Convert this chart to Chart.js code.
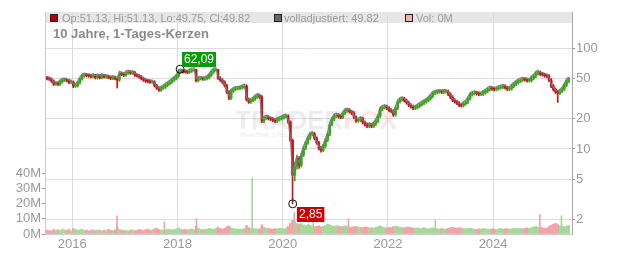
<!DOCTYPE html>
<html><head><meta charset="utf-8">
<script src="https://cdn.jsdelivr.net/npm/chart.js@4/dist/chart.umd.min.js"></script>
<style>html,body{margin:0;padding:0;background:#fff}canvas{display:block}</style>
</head><body>
<canvas id="c" width="632" height="253"></canvas>
<script>
// ---- tick labels / categories ----
const yearTicks = [2016, 2018, 2020, 2022, 2024];
const priceTicks = [2, 5, 10, 20, 50, 100];
const volTicks = [0, 10, 20, 30, 40]; // millions
const firstPeriod = 2015.5;   // half-month candles from Jul 2015
const periodsPerYear = 24;

// ---- series (half-month OHLC) ----
const opens = [51.0,50.0,49.5,47.3,44.1,44.6,44.1,46.7,48.4,48.4,
 47.8,46.0,46.2,42.2,42.5,45.7,49.5,53.3,54.2,53.6,
 53.3,52.4,53.6,51.2,53.3,51.2,53.6,52.1,52.4,51.5,
 50.4,51.2,50.1,48.4,56.5,55.2,54.2,56.8,58.1,56.8,
 57.5,54.2,53.3,52.1,50.1,48.4,47.3,47.0,46.2,46.2,
 42.6,40.3,38.5,40.3,41.2,43.1,44.6,46.2,48.4,50.1,
 53.0,58.8,59.5,58.6,58.5,57.9,59.5,60.8,61.4,47.8,
 50.1,50.1,49.5,50.1,51.2,54.2,58.1,61.1,61.4,50.7,
 48.4,46.2,42.6,36.8,32.0,37.6,39.0,39.9,39.9,40.5,
 41.2,42.2,31.0,29.3,30.3,31.4,32.9,34.0,32.8,18.9,
 20.3,20.8,20.1,19.8,19.3,18.9,19.6,20.0,20.5,21.0,
 21.2,18.5,12.2,5.5,6.7,8.1,6.9,8.7,10.2,11.5,
 12.8,14.0,14.2,12.8,11.5,10.2,9.7,10.7,12.2,14.0,
 17.6,19.8,21.2,21.7,21.0,20.7,22.7,24.0,24.3,23.5,
 22.7,20.7,19.1,19.3,20.0,18.5,17.6,16.9,17.4,16.9,
 17.8,18.9,21.2,24.9,25.8,26.4,25.5,24.3,23.8,21.9,
 25.5,29.5,30.9,31.6,30.3,28.9,27.3,26.4,25.5,25.8,
 26.7,27.6,28.6,29.5,30.3,31.7,33.5,35.9,36.5,37.0,
 37.2,36.8,37.2,37.2,35.1,32.8,30.6,29.5,28.6,27.3,
 27.0,28.2,29.2,31.7,34.7,35.5,36.2,35.5,35.1,35.1,
 36.4,37.6,39.0,40.3,39.6,39.1,39.8,40.6,41.2,42.0,
 40.8,39.4,39.8,42.2,44.1,45.7,47.3,48.4,49.2,48.9,
 47.8,47.8,50.7,53.0,56.2,57.5,55.5,54.8,53.6,53.0,
 48.4,42.2,39.0,36.8,35.9,37.6,39.4,43.1,47.3];
const highs = [52.6,51.6,51.0,48.6,46.1,46.0,48.2,50.0,50.1,49.9,
 49.3,47.7,47.5,44.0,47.2,51.0,55.0,56.0,56.0,55.4,
 55.0,55.4,55.2,55.0,55.0,55.4,55.3,54.2,54.1,53.2,
 52.9,52.9,51.8,58.2,58.3,57.0,58.7,60.0,60.0,59.4,
 59.3,56.0,55.0,53.8,51.7,50.0,48.9,48.6,47.8,47.7,
 44.0,41.6,41.6,42.6,44.5,46.1,47.8,50.0,51.8,54.8,
 62.09,61.5,61.4,60.5,60.4,61.5,61.9,62.0,62.0,51.8,
 51.8,51.8,51.8,52.9,56.0,60.0,61.9,62.0,61.8,52.4,
 50.0,47.7,44.0,38.0,38.9,40.3,41.3,41.3,41.9,42.6,
 43.7,43.6,32.1,31.4,32.5,34.0,35.2,35.2,33.9,21.0,
 21.5,21.5,20.8,20.5,20.0,20.3,20.7,21.2,21.7,21.9,
 21.9,19.1,12.6,7.4,8.6,8.4,9.1,10.6,11.9,13.3,
 14.6,14.8,14.7,13.2,11.9,10.6,11.1,12.7,14.6,18.3,
 20.6,22.0,22.5,22.5,21.8,23.5,24.9,25.2,25.2,24.3,
 23.5,21.4,20.0,20.7,20.7,19.1,18.2,18.0,18.0,18.4,
 19.6,22.0,25.8,26.7,27.3,27.3,26.4,25.2,24.6,26.4,
 30.5,32.0,32.7,32.7,31.4,29.9,28.3,27.3,26.7,27.6,
 28.6,29.6,30.5,31.4,32.8,34.7,37.2,37.8,38.3,38.5,
 38.5,38.5,38.5,38.5,36.3,33.9,31.7,30.5,29.6,28.3,
 29.2,30.2,32.8,35.9,36.7,37.5,37.5,36.7,36.3,37.7,
 38.9,40.4,41.7,41.7,41.0,41.2,42.0,42.6,43.5,43.5,
 42.2,41.2,43.7,45.6,47.3,49.0,50.1,50.9,50.9,50.6,
 49.5,52.5,54.9,58.2,59.5,59.5,57.4,56.7,55.5,54.9,
 50.1,43.7,40.4,38.1,38.9,40.8,44.6,49.0,51.13];
const lows = [48.6,48.0,45.8,42.7,42.8,42.6,42.9,45.2,46.8,46.3,
 44.5,44.6,40.6,40.9,41.2,44.4,48.2,51.6,51.9,51.6,
 50.8,50.8,49.6,49.6,49.6,49.7,50.5,50.5,49.9,48.8,
 48.8,48.5,40.3,47.0,53.5,52.5,52.6,55.1,55.0,55.1,
 52.5,51.6,50.5,48.5,46.9,45.8,45.5,44.8,44.8,41.3,
 39.0,37.3,37.3,39.0,39.9,41.7,43.2,44.8,46.9,48.5,
 51.4,57.0,56.8,56.7,56.1,56.1,57.6,58.9,46.3,46.3,
 48.5,48.0,48.0,48.5,49.6,52.5,56.3,59.2,49.1,46.9,
 44.7,41.2,35.6,31.0,31.0,36.4,37.8,38.6,38.6,39.2,
 39.9,30.0,28.4,28.4,29.3,30.4,31.8,31.7,18.3,18.3,
 19.6,19.4,19.1,18.7,18.3,18.3,18.9,19.3,19.8,20.3,
 17.9,11.8,2.85,4.8,6.3,6.4,6.6,8.4,9.8,11.1,
 12.4,13.5,12.3,11.1,9.8,9.3,9.4,10.3,11.8,13.5,
 17.0,19.1,20.5,20.3,20.0,20.0,21.9,23.2,22.7,21.9,
 20.0,18.4,18.4,18.6,17.8,17.0,16.3,16.3,16.3,16.3,
 17.2,18.3,20.5,24.0,24.9,24.6,23.4,23.0,21.1,21.1,
 24.6,28.5,29.8,29.2,27.9,26.3,25.5,24.6,24.6,24.9,
 25.8,26.6,27.6,28.5,29.2,30.6,32.3,34.6,35.2,35.7,
 35.5,35.5,35.9,33.9,31.7,29.5,28.5,27.6,26.3,26.1,
 26.1,27.2,28.2,30.6,33.5,34.3,34.3,33.9,33.9,33.9,
 35.1,36.3,37.6,38.2,37.7,37.7,38.4,39.2,39.8,39.4,
 38.0,38.0,38.4,40.7,42.6,44.1,45.6,46.7,47.2,46.1,
 46.1,46.1,48.9,51.1,54.2,53.6,52.9,51.7,51.1,46.7,
 40.7,37.6,35.5,29.0,34.6,36.3,38.0,41.6,45.6];
const closes = [50.0,49.5,47.3,44.1,44.6,44.1,46.7,48.4,48.4,47.8,
 46.0,46.2,42.2,42.5,45.7,49.5,53.3,54.2,53.6,53.3,
 52.4,53.6,51.2,53.3,51.2,53.6,52.1,52.4,51.5,50.4,
 51.2,50.1,48.4,56.5,55.2,54.2,56.8,58.1,56.8,57.5,
 54.2,53.3,52.1,50.1,48.4,47.3,47.0,46.2,46.2,42.6,
 40.3,38.5,40.3,41.2,43.1,44.6,46.2,48.4,50.1,53.0,
 58.8,59.5,58.6,58.5,57.9,59.5,60.8,61.4,47.8,50.1,
 50.1,49.5,50.1,51.2,54.2,58.1,61.1,61.4,50.7,48.4,
 46.2,42.6,36.8,32.0,37.6,39.0,39.9,39.9,40.5,41.2,
 42.2,31.0,29.3,30.3,31.4,32.9,34.0,32.8,18.9,20.3,
 20.8,20.1,19.8,19.3,18.9,19.6,20.0,20.5,21.0,21.2,
 18.5,12.2,5.5,6.7,8.1,6.9,8.7,10.2,11.5,12.8,
 14.0,14.2,12.8,11.5,10.2,9.7,10.7,12.2,14.0,17.6,
 19.8,21.2,21.7,21.0,20.7,22.7,24.0,24.3,23.5,22.7,
 20.7,19.1,19.3,20.0,18.5,17.6,16.9,17.4,16.9,17.8,
 18.9,21.2,24.9,25.8,26.4,25.5,24.3,23.8,21.9,25.5,
 29.5,30.9,31.6,30.3,28.9,27.3,26.4,25.5,25.8,26.7,
 27.6,28.6,29.5,30.3,31.7,33.5,35.9,36.5,37.0,37.2,
 36.8,37.2,37.2,35.1,32.8,30.6,29.5,28.6,27.3,27.0,
 28.2,29.2,31.7,34.7,35.5,36.2,35.5,35.1,35.1,36.4,
 37.6,39.0,40.3,39.6,39.1,39.8,40.6,41.2,42.0,40.8,
 39.4,39.8,42.2,44.1,45.7,47.3,48.4,49.2,48.9,47.8,
 47.8,50.7,53.0,56.2,57.5,55.5,54.8,53.6,53.0,48.4,
 42.2,39.0,36.8,35.9,37.6,39.4,43.1,47.3,49.82];
const adjusted = [52.3,51.7,49.4,46.1,46.6,46.1,48.8,50.6,50.6,50.0,
 48.1,48.3,44.1,44.4,47.8,51.7,55.7,56.6,56.0,55.7,
 54.8,56.0,53.5,55.7,53.5,56.0,54.4,54.8,53.8,52.7,
 53.5,52.4,50.6,59.0,57.7,56.6,59.4,60.7,59.4,60.1,
 56.6,55.7,54.4,52.4,50.6,49.4,49.1,48.3,48.3,44.5,
 42.1,40.2,42.1,43.1,45.0,46.6,48.3,50.6,52.4,55.4,
 61.4,62.2,61.2,61.1,60.5,62.2,63.5,64.2,50.0,52.4,
 52.4,51.7,52.4,53.5,56.6,60.7,63.8,64.2,53.0,50.6,
 48.3,44.5,38.5,33.4,39.3,40.8,41.7,41.7,42.3,43.1,
 44.1,32.4,30.6,31.7,32.8,34.4,35.5,34.3,19.8,21.2,
 21.7,21.0,20.7,20.2,19.8,20.5,20.9,21.4,21.9,22.2,
 19.3,12.7,5.7,7.0,8.5,7.2,9.1,10.7,12.0,13.4,
 14.6,14.8,13.4,12.0,10.7,10.1,11.2,12.7,14.6,18.4,
 20.7,22.2,22.7,21.9,21.6,23.7,25.1,25.4,24.6,23.7,
 21.6,20.0,20.2,20.9,19.3,18.4,17.7,18.2,17.7,18.6,
 19.8,22.2,26.0,27.0,27.6,26.6,25.4,24.9,22.9,26.6,
 30.8,32.3,33.0,31.7,30.2,28.5,27.6,26.6,27.0,27.9,
 28.8,29.9,30.8,31.7,33.1,35.0,37.5,38.1,38.7,38.9,
 38.5,38.9,38.9,36.7,34.3,32.0,30.8,29.9,28.5,28.2,
 29.5,30.5,33.1,36.3,37.1,37.8,37.1,36.7,36.7,38.0,
 39.3,40.8,42.1,41.4,40.9,41.6,42.4,43.1,43.9,42.6,
 41.2,41.6,44.1,46.1,47.8,49.4,50.6,51.4,51.1,50.0,
 50.0,53.0,55.4,58.7,60.1,58.0,57.3,56.0,55.4,50.6,
 44.1,40.8,38.5,37.5,39.3,41.2,45.0,49.4,52.1];
const volumes = [2.6,2.2,2.0,3.0,2.4,2.8,2.2,3.2,2.6,2.4,3.0,2.0,3.6,3.0,2.4,2.8,3.2,2.2,2.6,2.0,2.4,2.8,2.2,2.6,
 2.4,2.0,2.6,2.2,3.0,2.4,2.2,2.8,4.2,3.0,2.6,2.2,2.4,2.0,2.6,2.8,2.2,2.4,3.0,2.6,2.2,2.8,3.2,2.4,
 2.8,3.4,3.8,3.0,2.6,2.4,2.8,3.2,3.0,2.6,3.0,3.4,4.0,3.2,2.8,3.0,2.6,3.0,3.4,2.8,5.0,3.6,3.0,2.8,
 3.0,3.2,3.6,3.4,3.0,3.8,4.5,3.6,3.2,3.8,4.8,5.2,4.0,3.6,3.2,3.4,3.0,3.2,3.6,5.6,4.2,3.8,3.6,3.4,
 3.2,3.4,6.0,4.4,3.8,3.6,3.4,3.2,3.6,3.4,3.8,3.6,3.4,3.6,5.0,7.0,9.0,8.0,7.0,6.5,6.8,6.0,5.5,6.2,
 5.8,5.2,4.8,5.0,5.4,4.6,5.0,5.6,6.4,6.0,5.4,5.0,5.6,5.2,4.8,5.0,5.4,4.8,4.6,4.4,4.8,5.0,4.6,4.4,
 4.2,4.6,4.4,4.0,4.2,3.8,4.4,4.8,5.4,4.6,4.2,4.0,4.4,4.2,4.8,5.2,5.0,4.4,4.2,4.0,4.4,4.6,4.2,4.0,
 3.8,4.0,3.6,3.8,4.2,3.6,3.4,3.8,4.0,3.6,3.4,3.2,3.6,3.4,3.2,3.8,4.2,4.4,4.0,3.8,4.2,4.0,3.6,3.4,
 3.6,3.8,3.4,3.2,3.0,3.4,3.2,3.6,3.4,3.2,3.0,3.4,3.2,3.0,3.4,3.6,3.2,3.4,3.6,3.2,3.4,3.8,3.6,3.4,
 3.6,3.4,3.8,4.0,3.6,4.2,4.6,5.0,4.4,4.0,4.2,3.8,4.0,5.0,5.8,6.4,7.0,6.2,5.4,5.0,4.8,5.2,5.6];
const spikeDates = [2016.85, 2017.75, 2018.36, 2019.42, 2020.22, 2020.58, 2021.25, 2022.9, 2024.89, 2025.3];
const spikeVols  = [12, 8, 10, 37, 14, 16, 10, 9, 13, 12];
const spikeUp    = [false, false, false, true, false, true, false, true, false, true];
const hiMark = {date: 2018.05, value: 62.09, text: '62,09'};
const loMark = {date: 2020.19, value: 2.85, text: '2,85'};

// ---- styles ----
const RED = '#c8141e', GREEN = '#3aa81c', GRAY = 'rgba(120,120,120,0.9)';
const VRED = '#f2a2a8', VGREEN = '#a6d89c';
const FONT = '"Liberation Sans", Arial, sans-serif';

const periodT = i => firstPeriod + (i + 0.5) / periodsPerYear;
const up = i => closes[i] >= opens[i];

const wickData = highs.map((h, i) => ({x: periodT(i), y: [lows[i], h]}));
const bodyData = closes.map((c, i) => ({x: periodT(i), y: [Math.min(opens[i], c), Math.max(opens[i], c)]}));
const adjData = adjusted.map((v, i) => ({x: periodT(i), y: v}));
const volData = volumes.map((v, i) => ({x: periodT(i), y: v}));
const spikeData = spikeVols.map((v, i) => ({x: spikeDates[i], y: v}));

const overlay = {
  id: 'overlay',
  beforeDraw(chart) {
    const {ctx, chartArea: a} = chart;
    ctx.save();
    ctx.fillStyle = '#e6e6e6';
    ctx.fillRect(a.left, a.top, a.right - a.left, 11);
    ctx.restore();
  },
  beforeDatasetsDraw(chart) {
    const {ctx} = chart;
    ctx.save();
    ctx.font = 'bold 26px ' + FONT;
    ctx.textBaseline = 'alphabetic';
    ctx.fillStyle = 'rgba(0,0,0,0.07)';
    ctx.fillText('TRADER', 235, 129);
    const w = ctx.measureText('TRADER').width;
    ctx.fillStyle = 'rgba(230,60,70,0.13)';
    ctx.fillText('FOX', 235 + w, 129);
    ctx.font = 'bold 6px ' + FONT;
    ctx.fillStyle = 'rgba(0,0,0,0.08)';
    ctx.fillText('REALTIME STOCK SCREENING', 240, 137);
    ctx.restore();
  },
  afterDraw(chart) {
    const {ctx, scales} = chart;
    ctx.save();
    const sq = (x, fill) => {
      ctx.fillStyle = fill; ctx.fillRect(x, 14, 8, 8);
      ctx.strokeStyle = '#222'; ctx.lineWidth = 1; ctx.strokeRect(x + 0.5, 14.5, 7, 7);
    };
    ctx.font = '11px ' + FONT;
    ctx.textBaseline = 'alphabetic';
    sq(50, '#b00000');
    ctx.fillStyle = '#9a9a9a';
    ctx.fillText('Op:51.13, Hi:51.13, Lo:49.75, Cl:49.82', 62, 21.5);
    sq(274, '#666666');
    ctx.fillStyle = '#9a9a9a';
    ctx.fillText('volladjustiert: 49.82', 284, 21.5);
    sq(405, '#f4b0b4');
    ctx.fillStyle = '#9a9a9a';
    ctx.fillText('Vol: 0M', 416, 21.5);
    ctx.font = 'bold 13px ' + FONT;
    ctx.fillStyle = '#8a8a8a';
    ctx.fillText('10 Jahre, 1-Tages-Kerzen', 53, 38);
    const mark = (m, color, dx, dy, below) => {
      const cx = scales.x.getPixelForValue(m.date);
      const cy = scales.yP.getPixelForValue(m.value);
      ctx.beginPath(); ctx.arc(cx, cy, 4, 0, Math.PI * 2);
      ctx.strokeStyle = '#111'; ctx.lineWidth = 1; ctx.stroke();
      ctx.font = '12px ' + FONT;
      const tw = ctx.measureText(m.text).width;
      const bx = Math.round(cx + dx), by = Math.round(below ? cy + dy : cy - dy - 15);
      ctx.fillStyle = color; ctx.fillRect(bx, by, tw + 4, 15);
      ctx.fillStyle = '#fff'; ctx.textBaseline = 'middle';
      ctx.fillText(m.text, bx + 2, by + 8);
      ctx.textBaseline = 'alphabetic';
    };
    mark(hiMark, '#0a9a0a', 2, 2, false);
    mark(loMark, '#cc0000', 4, 3, true);
    ctx.restore();
  }
};

new Chart(document.getElementById('c'), {
  type: 'line',
  data: {
    datasets: [
      {type: 'bar', label: 'Vol', data: volData, yAxisID: 'yV', grouped: false, barThickness: 2,
       backgroundColor: c => up(c.dataIndex) ? VGREEN : VRED, order: 6},
      {type: 'bar', label: 'VolSpike', data: spikeData, yAxisID: 'yV', grouped: false, barThickness: 1,
       backgroundColor: c => spikeUp[c.dataIndex] ? VGREEN : VRED, order: 5},
      {type: 'bar', label: 'wick', data: wickData, yAxisID: 'yP', grouped: false, barThickness: 1,
       backgroundColor: c => up(c.dataIndex) ? GREEN : RED, order: 4},
      {type: 'bar', label: 'body', data: bodyData, yAxisID: 'yP', grouped: false, barThickness: 2, minBarLength: 1,
       backgroundColor: c => up(c.dataIndex) ? GREEN : RED, order: 3},
      {type: 'line', label: 'volladjustiert', data: adjData, yAxisID: 'yP', borderColor: GRAY,
       borderWidth: 1.3, pointRadius: 0, tension: 0, order: 1}
    ]
  },
  options: {
    responsive: false, animation: false, devicePixelRatio: 1,
    layout: {padding: {top: 12, left: 0, right: 0, bottom: 0}},
    plugins: {legend: {display: false}, tooltip: {enabled: false}},
    scales: {
      x: {type: 'linear', min: 2015.481, max: 2025.5, offset: false,
          afterBuildTicks: s => { s.ticks = yearTicks.map(v => ({value: v})); },
          afterFit: s => { s.height = 19; },
          ticks: {callback: v => String(v), color: '#999', font: {size: 13, family: FONT}, padding: 3,
                  autoSkip: false, maxRotation: 0},
          grid: {color: '#dddddd', drawTicks: false, offset: false},
          border: {display: true, color: '#cccccc'}},
      yP: {type: 'logarithmic', position: 'right', min: 1.43, max: 229.8,
           afterBuildTicks: s => { s.ticks = priceTicks.map(v => ({value: v})); },
           afterFit: s => { s.width = 60; },
           ticks: {callback: v => String(v), color: '#999', font: {size: 13, family: FONT}, padding: 1, autoSkip: false},
           grid: {color: '#dddddd', tickLength: 3, tickColor: '#999'},
           border: {display: true, color: '#aaaaaa'}},
      yV: {type: 'linear', position: 'left', min: 0, max: 146,
           afterBuildTicks: s => { s.ticks = volTicks.map(v => ({value: v})); },
           afterFit: s => { s.width = 45; },
           ticks: {callback: v => v + 'M', color: '#999', font: {size: 13, family: FONT}, padding: 1, autoSkip: false},
           grid: {drawOnChartArea: false, tickLength: 3, tickColor: '#999'},
           border: {display: true, color: '#cccccc'}}
    }
  },
  plugins: [overlay]
});
</script>
</body></html>
